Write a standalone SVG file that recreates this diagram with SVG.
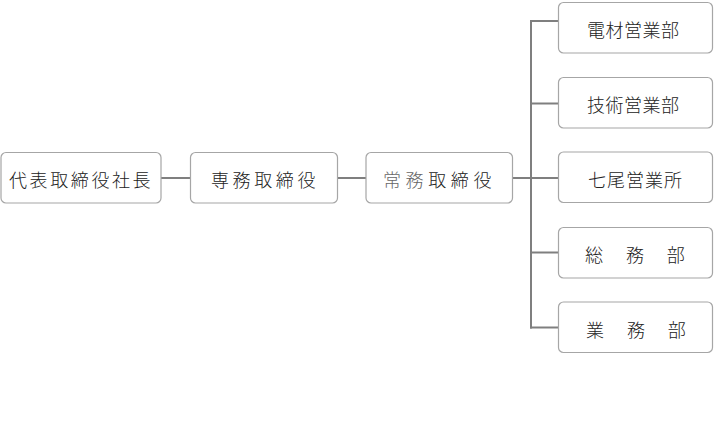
<svg xmlns="http://www.w3.org/2000/svg" width="717" height="425" viewBox="0 0 717 425">
<style>
rect.box{fill:#fff;stroke:#a6a6a6;stroke-width:1.2}
text{font-family:"Noto Sans CJK JP","Noto Sans",sans-serif;font-size:18px;font-weight:300;fill:#222}
.conn line{stroke:#7f7f7f;stroke-width:2}
</style>
<rect width="717" height="425" fill="#fff"/>
<g id="connectors" class="conn">
<line x1="161" y1="178" x2="191" y2="178"/>
<line x1="338" y1="178" x2="366" y2="178"/>
<line x1="512.5" y1="178" x2="531" y2="178"/>
<line x1="531" y1="20" x2="531" y2="328.5"/>
<line x1="530" y1="21" x2="558.5" y2="21"/>
<line x1="531" y1="103.5" x2="558.5" y2="103.5"/>
<line x1="531" y1="178" x2="558.5" y2="178"/>
<line x1="531" y1="252.5" x2="558.5" y2="252.5"/>
<line x1="530" y1="327.5" x2="558.5" y2="327.5"/>
</g>
<g id="n-president"><rect class="box" x="1" y="152.5" width="160" height="50.5" rx="5"/><text x="9" y="186.5" letter-spacing="2.6">代表取締役社長</text></g>
<g id="n-senmu"><rect class="box" x="190.5" y="152.5" width="147" height="50.5" rx="5"/><text x="211" y="186.5" letter-spacing="3.6">専務取締役</text></g>
<g id="n-joumu"><rect class="box" x="366" y="152.5" width="146.5" height="50.5" rx="5"/><text x="383" y="186.5" letter-spacing="4.6"><tspan fill="#666">常務</tspan>取締役</text></g>
<g id="n-densai"><rect class="box" x="558.5" y="2.5" width="154" height="50.5" rx="5"/><text x="587" y="36.5" letter-spacing="0.5">電材営業部</text></g>
<g id="n-gijutsu"><rect class="box" x="558.5" y="77.5" width="154" height="50.5" rx="5"/><text x="587" y="111.5" letter-spacing="0.5">技術営業部</text></g>
<g id="n-nanao"><rect class="box" x="558.5" y="152" width="154" height="50.5" rx="5"/><text x="588" y="186.5" letter-spacing="1">七尾営業所</text></g>
<g id="n-soumu"><rect class="box" x="558.5" y="227.5" width="154" height="50.5" rx="5"/><text x="585" y="261.5" letter-spacing="2.45">総　務　部</text></g>
<g id="n-gyoumu"><rect class="box" x="558.5" y="302" width="154" height="50.5" rx="5"/><text x="586" y="336.5" letter-spacing="2.45">業　務　部</text></g>
</svg>
